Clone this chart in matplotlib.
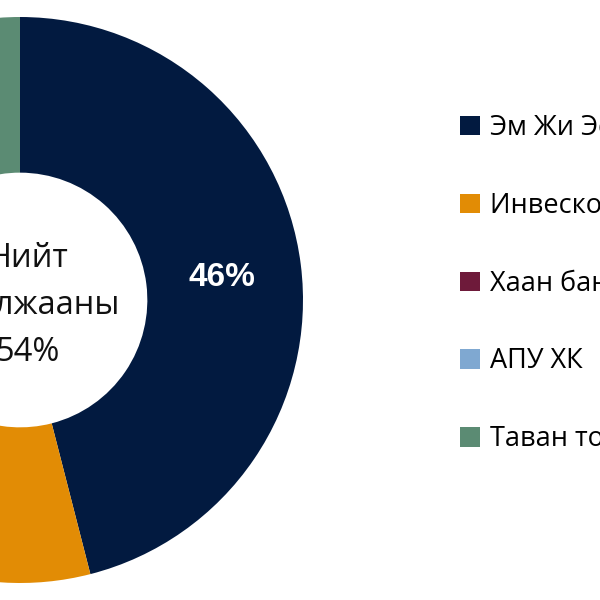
import matplotlib
matplotlib.use("Agg")
import matplotlib.pyplot as plt

labels = ["Эм Жи Эс ХХК", "Инвескор ББСБ", "Хаан банк", "АПУ ХК", "Таван толгой ХК"]
values = [46, 20, 16, 8, 10]
colors = ["#021A40", "#E28C05", "#6E1A3A", "#7FA8D1", "#5B8B73"]
center_lines = ["Нийт", "арилжааны", "54%"]

plt.rcParams['font.family'] = ['Open Sans', 'DejaVu Sans']

fig = plt.figure(figsize=(6, 6), dpi=100)
R = 283 / 600
cx, cy = 20 / 600, 0.5
ax = fig.add_axes([cx - R, cy - R, 2 * R, 2 * R])

wedges, texts, autotexts = ax.pie(
    values, colors=colors, startangle=90, counterclock=False,
    radius=1, wedgeprops=dict(width=0.55, linewidth=0),
    autopct=lambda p: f"{p:.0f}%", pctdistance=0.72,
    textprops=dict(color="white", fontsize=24, fontweight="bold",
                   family=["Liberation Sans", "DejaVu Sans"]))
for t in autotexts:
    t.set_va("center_baseline")
ax.set_xlim(-1, 1)
ax.set_ylim(-1, 1)
ax.set_aspect("equal")
ax.axis("off")

ax.text(0.03, -0.02, "\n".join(center_lines), ha="center", va="center",
        fontsize=23.5, color="#111111", linespacing=1.56)

fig.legend(wedges, labels, loc="upper left", bbox_to_anchor=(460 / 600, 1 - 114 / 600),
           frameon=False, fontsize=19.5, handlelength=0.72, handleheight=0.72,
           handletextpad=0.4, labelspacing=1.84, borderpad=0, borderaxespad=0)

fig.savefig("out.png", dpi=100)
